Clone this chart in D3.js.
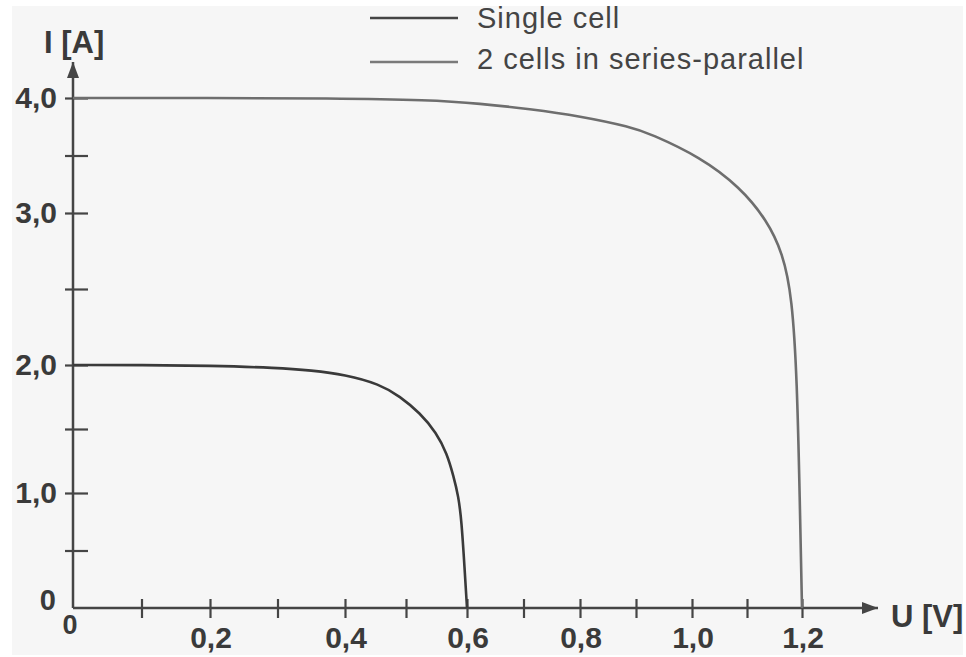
<!DOCTYPE html>
<html>
<head>
<meta charset="utf-8">
<script src="https://cdn.jsdelivr.net/npm/d3@7"></script>
<style>
	html, body { margin: 0; padding: 0; background: #fff; }
	svg { display: block; font-family: "Liberation Sans", Arial, sans-serif; }
</style>
</head>
<body>
<div id="chart"></div>
<script>
(function() {
	// curve readings, U in volts, I in amps
	let singleU = [0, 0.1, 0.2, 0.3, 0.35, 0.4, 0.457, 0.49, 0.523, 0.55, 0.567, 0.578, 0.586, 0.591, 0.596, 0.6];
	let singleI = [2.0, 2.0, 1.995, 1.978, 1.958, 1.925, 1.85, 1.755, 1.625, 1.47, 1.31, 1.13, 0.97, 0.76, 0.35, 0];
	let seriesU = [0, 0.2, 0.378, 0.539, 0.623, 0.711, 0.8, 0.891, 0.925, 1.015, 1.087, 1.136, 1.165, 1.182, 1.191, 1.196, 1.2];
	let seriesI = [4.0, 4.0, 3.997, 3.983, 3.952, 3.904, 3.843, 3.748, 3.69, 3.487, 3.226, 2.954, 2.737, 2.447, 1.883, 0.94, 0];

	let xMajor = [0.2, 0.4, 0.6, 0.8, 1.0, 1.2];
	let xMinor = [0.1, 0.3, 0.5, 0.7, 0.9, 1.1];
	let yMajor = [1, 2, 3, 4];
	let yMinor = [0.5, 1.5, 2.5, 3.5];
	let seriesNames = ['Single cell', '2 cells in series-parallel'];
	let seriesColors = ['#3a3a3a', '#6e6e6e'];
	let legendColors = ['#454545', '#7a7a7a'];

	let width = 966, height = 657;
	let axisColor = '#454545';
	let textColor = '#3a3a3a';

	// the original axes are hand drawn, tick spacing is not even
	let x = d3.scaleLinear()
		.domain([0, 0.2, 0.4, 0.6, 0.8, 1.0, 1.2])
		.range([73, 210, 345, 467, 580, 692, 802]);
	let y = d3.scaleLinear()
		.domain([0, 1, 2, 3, 4])
		.range([608, 493, 365, 213, 98]);

	let fmt = d3.formatLocale({decimal: ',', thousands: '.', grouping: [3], currency: ['', '']}).format('.1f');

	let svg = d3.select('#chart')
		.append('svg')
		.attr('width', width)
		.attr('height', height);

	svg.append('rect')
		.attr('x', 12).attr('y', 6)
		.attr('width', 951).attr('height', 649)
		.attr('fill', '#f6f6f6');

	let defs = svg.append('defs');
	defs.append('marker')
		.attr('id', 'arrow')
		.attr('viewBox', '0 0 16 12')
		.attr('refX', 16).attr('refY', 6)
		.attr('markerWidth', 16).attr('markerHeight', 12)
		.attr('markerUnits', 'userSpaceOnUse')
		.attr('orient', 'auto')
		.append('path')
		.attr('d', 'M0,0 L16,6 L0,12 Z')
		.attr('fill', axisColor);

	// x axis
	let xAxis = svg.append('g')
		.attr('transform', `translate(0,${y(0)})`)
		.call(d3.axisBottom(x).tickValues(xMinor.concat(xMajor)).tickFormat('').tickSizeOuter(0));
	xAxis.select('.domain').remove();
	xAxis.selectAll('.tick line')
		.attr('y1', -9).attr('y2', 10)
		.attr('stroke', axisColor).attr('stroke-width', 2.2);

	svg.append('line')
		.attr('x1', x(0)).attr('x2', 878)
		.attr('y1', y(0)).attr('y2', y(0))
		.attr('stroke', axisColor).attr('stroke-width', 2.5)
		.attr('marker-end', 'url(#arrow)');

	// y axis
	let yAxis = svg.append('g')
		.attr('transform', `translate(${x(0)},0)`)
		.call(d3.axisLeft(y).tickValues(yMinor.concat(yMajor)).tickFormat('').tickSizeOuter(0));
	yAxis.select('.domain').remove();
	yAxis.selectAll('.tick line')
		.attr('x1', -8).attr('x2', 15)
		.attr('stroke', axisColor).attr('stroke-width', 2.2);

	svg.append('line')
		.attr('x1', x(0)).attr('x2', x(0))
		.attr('y1', y(0)).attr('y2', 62)
		.attr('stroke', axisColor).attr('stroke-width', 2.5)
		.attr('marker-end', 'url(#arrow)');

	// tick labels
	svg.selectAll('.xlab')
		.data(xMajor)
		.enter()
		.append('text')
		.attr('class', 'xlab')
		.attr('x', d => x(d) + 1)
		.attr('y', 648)
		.attr('text-anchor', 'middle')
		.attr('font-size', 30).attr('font-weight', 'bold')
		.attr('fill', textColor)
		.text(d => fmt(d));

	svg.selectAll('.ylab')
		.data(yMajor)
		.enter()
		.append('text')
		.attr('class', 'ylab')
		.attr('x', 57)
		.attr('y', d => y(d) + 10)
		.attr('text-anchor', 'end')
		.attr('font-size', 30).attr('font-weight', 'bold')
		.attr('fill', textColor)
		.text(d => fmt(d));

	svg.append('text')
		.attr('x', 56).attr('y', 610)
		.attr('text-anchor', 'end')
		.attr('font-size', 29).attr('font-weight', 'bold')
		.attr('fill', textColor)
		.text('0');
	svg.append('text')
		.attr('x', 70).attr('y', 634)
		.attr('text-anchor', 'middle')
		.attr('font-size', 27).attr('font-weight', 'bold')
		.attr('fill', textColor)
		.text('0');

	// axis titles
	svg.append('text')
		.attr('x', 44).attr('y', 53)
		.attr('font-size', 31).attr('font-weight', 'bold')
		.attr('fill', textColor)
		.text('I [A]');
	svg.append('text')
		.attr('x', 891).attr('y', 627)
		.attr('font-size', 31).attr('font-weight', 'bold')
		.attr('fill', textColor)
		.text('U [V]');

	// curves
	let line = d3.line()
		.x(d => x(d[0]))
		.y(d => y(d[1]))
		.curve(d3.curveBasis);

	let curves = [
		d3.zip(singleU, singleI),
		d3.zip(seriesU, seriesI)
	];

	svg.selectAll('.curve')
		.data(curves)
		.enter()
		.append('path')
		.attr('class', 'curve')
		.attr('d', line)
		.attr('fill', 'none')
		.attr('stroke', (d, i) => seriesColors[i])
		.attr('stroke-width', 2.6);

	// legend
	let legend = svg.selectAll('.legend')
		.data(seriesNames)
		.enter()
		.append('g')
		.attr('class', 'legend')
		.attr('transform', (d, i) => `translate(370,${18 + i * 44})`);
	legend.append('line')
		.attr('x1', 0).attr('x2', 88)
		.attr('stroke', (d, i) => legendColors[i])
		.attr('stroke-width', 2.6);
	legend.append('text')
		.attr('x', 107).attr('y', (d, i) => i ? 7 : 10)
		.attr('font-size', 29)
		.attr('letter-spacing', 1)
		.attr('fill', '#444')
		.text(d => d);
})();
</script>
</body>
</html>
